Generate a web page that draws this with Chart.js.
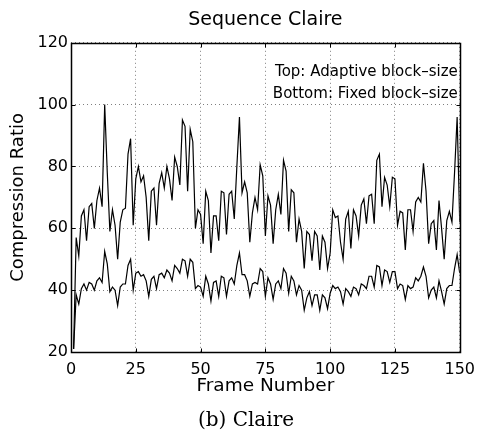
<!DOCTYPE html>
<html>
<head>
<meta charset="utf-8">
<title>Sequence Claire</title>
<script src="https://cdn.jsdelivr.net/npm/chart.js@4.4.1/dist/chart.umd.min.js"></script>
<style>
    html, body { margin: 0; padding: 0; background: #fff; }
    #wrap { width: 483px; height: 435px; }
</style>
</head>
<body>
<div id="wrap"><canvas id="claireChart" width="483" height="435"></canvas></div>
<script>
// ========================================
// DATA
// ========================================

const chartTitle = 'Sequence Claire';
const caption = '(b) Claire';
const xTitle = 'Frame Number';
const yTitle = 'Compression Ratio';
const noteLines = ['Top: Adaptive block\u2013size', 'Bottom: Fixed block\u2013size'];

const xTicks = [0, 25, 50, 75, 100, 125, 150];
const yTicks = [20, 40, 60, 80, 100, 120];

// frame numbers
const frames = [
    1, 2, 3, 4, 5, 6, 7, 8, 9, 10, 11, 12, 13, 14, 15, 16, 17, 18, 19, 20, 21, 22, 23, 24, 25,
    26, 27, 28, 29, 30, 31, 32, 33, 34, 35, 36, 37, 38, 39, 40, 41, 42, 43, 44, 45, 46, 47, 48, 49, 50,
    51, 52, 53, 54, 55, 56, 57, 58, 59, 60, 61, 62, 63, 64, 65, 66, 67, 68, 69, 70, 71, 72, 73, 74, 75,
    76, 77, 78, 79, 80, 81, 82, 83, 84, 85, 86, 87, 88, 89, 90, 91, 92, 93, 94, 95, 96, 97, 98, 99, 100,
    101, 102, 103, 104, 105, 106, 107, 108, 109, 110, 111, 112, 113, 114, 115, 116, 117, 118, 119, 120, 121, 122, 123, 124, 125,
    126, 127, 128, 129, 130, 131, 132, 133, 134, 135, 136, 137, 138, 139, 140, 141, 142, 143, 144, 145, 146, 147, 148, 149, 150
];

// top curve: adaptive block-size
const adaptiveRatio = [
    21, 57, 51, 64, 66, 56, 67, 68, 60, 69,
    73, 67, 100, 78, 59, 66, 61, 50, 62, 66,
    66.5, 84, 89, 61, 76, 80, 75, 77, 70, 56,
    72, 73, 61, 74.5, 78, 73, 80, 76, 69, 83,
    80, 74, 95, 93, 72, 92, 88, 60, 66, 64.5,
    55, 72, 69, 52, 64, 64, 56, 72, 71.5, 58,
    71, 72, 63, 80, 96, 71.5, 75, 71.5, 55.5, 65,
    70, 66, 80.5, 77, 57.5, 70.5, 67.5, 55, 66, 71,
    64.5, 82, 78.5, 59, 72.5, 71.5, 55.5, 63, 59, 47,
    59, 58, 49.5, 59, 57.5, 46.5, 57.5, 55.5, 47, 52,
    66, 63.5, 64, 55.5, 50, 63, 65.5, 53.5, 66, 64,
    57.5, 67.5, 69.5, 61.5, 70.5, 71, 61.5, 82, 84, 67,
    76.5, 74, 67, 76.5, 76, 61, 65.5, 65, 53, 66,
    66, 59, 68.5, 70, 68.5, 81, 72, 55, 61.5, 62.5,
    53, 69, 60, 50, 62.5, 65.5, 62, 78, 96, 62
];

// bottom curve: fixed block-size
const fixedRatio = [
    21, 38.5, 35.5, 40.5, 42, 40, 42.5, 42, 40, 43,
    44, 42.5, 52.5, 48.5, 39.5, 41, 40, 35, 41, 42,
    42, 48, 50, 40, 45.5, 46, 44.5, 45, 43, 38,
    43.5, 44.5, 40.5, 45, 45.5, 44, 46.5, 45.5, 43, 48,
    47, 45.5, 50, 49.5, 44.5, 50, 49, 40.5, 41.5, 41,
    38, 44.5, 42, 36.5, 42.5, 43, 38, 44.5, 44, 38,
    43, 44, 42, 48, 52, 45, 45, 43, 38, 42,
    42.5, 42, 47, 46, 38, 44, 42, 37, 42, 43,
    40.5, 47, 45.5, 39, 44.5, 43, 38.5, 41.5, 40, 33.5,
    37.5, 39.5, 35, 38.5, 38.5, 33.5, 38.5, 37.5, 34, 39,
    41.5, 40.5, 41, 39.5, 35.5, 40.5, 39.5, 38, 41, 40.5,
    38.5, 42, 41.5, 40.5, 44.5, 44.5, 41, 48, 47.5, 41.5,
    46.5, 46, 42.5, 46, 46, 40.5, 42, 41.5, 37, 41.5,
    40.5, 41, 44, 43, 44.5, 47.5, 44.5, 37.5, 40, 41,
    37.5, 43, 39.5, 35.5, 40.5, 41.5, 41.5, 47, 51.5, 45.5
];

// ========================================
// PLOT FRAME + TEXT NOTE + CAPTION
// ========================================

const sansFamily = '"DejaVu Sans", sans-serif';

const boxAndNotes = {
    id: 'boxAndNotes',
    afterDraw(chart) {
        const { ctx, chartArea: a, scales } = chart;
        const l = Math.round(a.left) + 0.5;
        const t = Math.round(a.top) + 0.5;
        const r = Math.round(a.right) + 0.5;
        const b = Math.round(a.bottom) + 0.5;
        const tick = 4;

        ctx.save();
        ctx.strokeStyle = '#000';
        ctx.lineWidth = 1;

        // inward tick marks, MATLAB style
        ctx.beginPath();
        xTicks.forEach(v => {
            const px = Math.round(scales.x.getPixelForValue(v)) + 0.5;
            ctx.moveTo(px, b); ctx.lineTo(px, b - tick);
            ctx.moveTo(px, t); ctx.lineTo(px, t + tick);
        });
        yTicks.forEach(v => {
            const py = Math.round(scales.y.getPixelForValue(v)) + 0.5;
            ctx.moveTo(l, py); ctx.lineTo(l + tick, py);
            ctx.moveTo(r, py); ctx.lineTo(r - tick, py);
        });
        ctx.stroke();

        // box
        ctx.lineWidth = 1.5;
        ctx.strokeRect(l, t, r - l, b - t);

        // annotation
        ctx.fillStyle = '#000';
        ctx.font = '15px ' + sansFamily;
        ctx.textAlign = 'right';
        ctx.textBaseline = 'middle';
        ctx.fillText(noteLines[0], a.right - 2, a.top + 29);
        ctx.fillText(noteLines[1], a.right - 2, a.top + 51);

        // caption under the figure
        ctx.font = '20px "DejaVu Serif", serif';
        ctx.textAlign = 'center';
        ctx.fillText(caption, 246, 421);
        ctx.restore();
    }
};

// ========================================
// CHART
// ========================================

Chart.defaults.font.family = sansFamily;
Chart.defaults.color = '#000';

const gridStyle = {
    color: 'rgba(0, 0, 0, 0.5)',
    lineWidth: 1,
    drawTicks: false
};

new Chart(document.getElementById('claireChart'), {
    type: 'line',
    data: {
        labels: frames,
        datasets: [
            {
                label: 'Adaptive block-size',
                data: adaptiveRatio,
                borderColor: '#000',
                borderWidth: 1.2,
                pointRadius: 0,
                fill: false,
                tension: 0
            },
            {
                label: 'Fixed block-size',
                data: fixedRatio,
                borderColor: '#000',
                borderWidth: 1.2,
                pointRadius: 0,
                fill: false,
                tension: 0
            }
        ]
    },
    options: {
        responsive: false,
        animation: false,
        layout: { padding: { left: 0, right: 21, top: 0, bottom: 25 } },
        plugins: {
            legend: { display: false },
            tooltip: { enabled: false },
            title: {
                display: true,
                text: chartTitle,
                fullSize: false,
                color: '#000',
                font: { size: 19, weight: 'normal' },
                padding: { top: 9, bottom: 11 }
            }
        },
        scales: {
            x: {
                type: 'linear',
                min: 0,
                max: 150,
                afterBuildTicks: scale => { scale.ticks = xTicks.map(v => ({ value: v })); },
                afterFit: scale => { scale.height = 58; },
                ticks: { font: { size: 16 }, padding: 8, maxRotation: 0, autoSkip: false },
                grid: gridStyle,
                border: { display: false, dash: [1, 3] },
                title: {
                    display: true,
                    text: xTitle,
                    font: { size: 18.5 },
                    padding: { top: 0, bottom: 13 }
                }
            },
            y: {
                type: 'linear',
                min: 20,
                max: 120,
                afterBuildTicks: scale => { scale.ticks = yTicks.map(v => ({ value: v })); },
                afterFit: scale => { scale.width = 71; },
                ticks: { font: { size: 16 }, padding: 3 },
                grid: gridStyle,
                border: { display: false, dash: [1, 3] },
                title: {
                    display: true,
                    text: yTitle,
                    font: { size: 18 },
                    padding: { top: 8, bottom: 0 }
                }
            }
        }
    },
    plugins: [boxAndNotes]
});
</script>
</body>
</html>
